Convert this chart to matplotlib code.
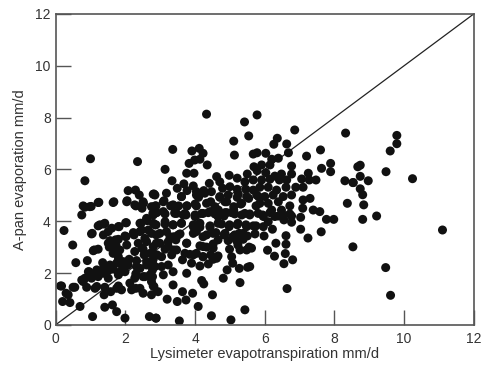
import matplotlib
matplotlib.use("Agg")
import matplotlib.pyplot as plt

# lysimeter ET (x) vs A-pan evaporation (y), mm/d
lys = [1.00, 2.35, 0.84, 2.08, 2.29, 2.40, 2.80, 1.24, 1.67, 2.05, 2.51, 0.84, 1.02, 0.75, 2.30, 2.48, 2.88, 2.88, 2.61,
       4.33, 5.78, 5.42, 5.54, 5.11, 3.36, 4.12, 3.91, 4.23, 5.13, 5.67, 5.78, 3.99, 3.83, 4.14, 4.35, 3.14, 5.69, 3.76,
       3.97, 5.78, 3.34, 4.62, 4.98, 3.68, 3.95, 4.41, 4.71, 5.21, 5.50, 5.43, 5.67, 2.82, 3.49, 3.77, 4.04, 4.25, 4.47,
       4.79, 5.00, 5.21, 5.46, 5.67, 3.61, 4.10, 4.71, 4.91, 5.21, 5.54, 5.82, 3.11, 2.86, 3.30, 3.53, 3.77, 4.04, 4.45,
       5.31, 5.75, 3.09, 3.47, 3.74, 4.00, 4.38, 4.67, 4.86, 5.11, 5.57, 5.81,
       6.86, 8.32, 6.36, 6.26, 6.63, 6.68, 7.20, 7.60, 6.03, 6.20, 6.39, 5.91, 6.15, 6.77, 7.89, 7.63, 7.89, 8.67, 6.03,
       6.29, 6.48, 6.77, 7.25, 5.91, 6.15, 6.42, 6.63, 7.06, 7.28, 7.47, 8.30, 8.54, 5.86, 6.10, 6.34, 6.61, 6.89, 7.10,
       5.77, 6.00, 6.24, 6.53, 6.77, 5.86, 6.10, 6.39, 7.10, 7.30, 8.37, 6.20, 6.48, 6.72, 7.09, 7.39, 7.58, 5.96, 6.29,
       6.53, 6.77, 7.77, 7.98,
       9.79, 9.79, 9.60, 8.74, 9.48, 10.24, 8.74, 8.53, 8.97, 8.74, 8.81, 8.84, 9.21, 8.81,
       11.10, 8.53, 9.47, 9.61,
       7.62, 7.24, 7.03, 7.03, 6.77, 6.55, 6.72, 6.39, 6.15, 5.94, 6.10, 5.67, 5.96, 6.22, 5.98, 6.61, 6.32, 6.61, 5.62,
       6.08, 6.28, 6.59, 6.80, 6.55, 5.57, 6.64,
       2.79, 3.42, 3.71, 4.00, 4.23, 4.57, 4.83, 5.05, 5.34, 5.57,
       2.85, 3.14, 3.37, 3.61, 3.95, 4.14, 4.43, 4.76, 4.98, 5.21, 5.46, 5.75,
       2.89, 3.18, 3.39, 3.57, 3.95, 4.33, 4.60, 4.83, 5.08, 5.27, 5.50, 5.72, 4.66, 4.95, 5.19, 5.38,
       2.80, 2.99, 3.23, 3.45, 3.76, 4.14, 4.33, 4.52, 5.29, 5.55, 3.39, 3.14,
       3.71, 3.85, 4.04, 4.23, 4.45, 4.66, 3.64, 3.90, 4.14, 4.38, 4.52, 4.92, 5.08, 5.27, 5.51, 2.80, 2.78, 3.04, 3.23,
       3.37,
       2.78, 2.82, 3.09, 3.37, 3.76, 3.64, 3.93, 4.19, 4.25, 4.50, 4.81, 5.29, 3.20,
       3.49, 3.74, 4.09, 4.47, 5.03, 5.43, 2.88, 3.55,
       0.24, 1.03, 1.27, 1.39, 1.61, 1.82, 2.03, 2.42, 2.63, 2.47, 2.66, 2.88, 0.49, 1.37, 1.56, 1.80, 2.02, 2.25, 1.73,
       1.54, 1.08, 1.22, 2.37, 2.61, 2.51, 2.80, 2.91, 0.58, 0.91, 1.35, 1.56, 1.80, 1.94, 2.11, 2.32, 2.42, 2.61, 2.80,
       0.96, 0.84, 0.79, 1.08, 1.37, 1.51, 1.65, 1.80, 1.92, 2.30, 2.51, 2.71, 0.14, 0.55, 0.30, 0.41, 0.20, 0.70, 0.89,
       1.18, 1.39, 1.58, 1.80, 1.89, 2.13, 2.30, 2.51, 2.80, 2.94, 1.41, 1.63, 1.75, 1.99, 1.06, 2.69, 2.88]

pan = [6.41, 6.30, 5.56, 5.18, 5.20, 5.01, 5.04, 4.73, 4.75, 4.79, 4.75, 4.54, 4.57, 4.24, 4.59, 4.50, 4.59, 4.33, 4.11,
       8.13, 8.10, 7.83, 7.29, 7.09, 6.77, 6.81, 6.71, 6.62, 6.55, 6.59, 6.64, 6.36, 6.23, 6.39, 6.17, 6.00, 6.10, 5.85,
       5.85, 5.95, 5.56, 5.72, 5.77, 5.44, 5.36, 5.46, 5.52, 5.66, 5.82, 5.52, 5.59, 5.05, 5.27, 5.18, 5.14, 5.18, 5.14,
       5.27, 5.33, 5.23, 5.23, 5.20, 4.95, 4.92, 4.92, 4.75, 4.92, 4.88, 4.95, 4.79, 4.59, 4.59, 4.59, 4.59, 4.59, 4.75,
       4.66, 4.59, 4.37, 4.30, 4.24, 4.24, 4.33, 4.43, 4.33, 4.43, 4.24, 4.30,
       7.52, 7.40, 7.20, 6.97, 6.98, 6.64, 6.51, 6.75, 6.62, 6.39, 6.43, 6.17, 6.17, 6.13, 6.23, 6.04, 5.91, 6.10, 5.87,
       5.74, 5.82, 5.82, 5.85, 5.59, 5.62, 5.59, 5.59, 5.63, 5.59, 5.59, 5.56, 5.49, 5.31, 5.31, 5.20, 5.31, 5.31, 5.31,
       5.01, 4.95, 5.01, 4.95, 5.01, 4.69, 4.69, 4.75, 4.82, 4.88, 4.69, 4.43, 4.43, 4.59, 4.50, 4.43, 4.37, 4.18, 4.18,
       4.24, 4.20, 4.07, 4.07,
       7.31, 6.99, 6.71, 6.16, 5.91, 5.64, 5.73, 5.49, 5.56, 5.25, 5.02, 4.63, 4.20, 4.07,
       3.66, 3.01, 2.21, 1.14,
       3.59, 3.35, 3.69, 4.15, 3.96, 4.05, 4.28, 4.20, 4.33, 4.24, 3.98, 3.82, 3.79, 3.69, 3.43, 3.44, 3.15, 3.11, 2.96,
       2.88, 2.65, 2.75, 2.51, 2.36, 2.25, 1.40,
       4.30, 4.30, 4.30, 4.18, 4.30, 4.28, 4.20, 4.33, 4.24, 4.28,
       3.86, 3.89, 3.86, 3.92, 3.86, 3.77, 3.82, 3.89, 3.79, 3.86, 3.86, 3.82,
       3.47, 3.60, 3.40, 3.51, 3.53, 3.47, 3.56, 3.47, 3.40, 3.53, 3.43, 3.51, 3.28, 3.25, 3.25, 3.30,
       2.76, 3.15, 3.21, 3.28, 3.15, 3.05, 3.00, 3.12, 2.89, 3.00, 2.89, 2.92,
       2.76, 2.72, 2.76, 2.63, 2.70, 2.66, 2.51, 2.38, 2.27, 2.35, 2.53, 2.12, 2.38, 2.18, 2.22, 2.53, 2.12, 2.25, 2.31,
       2.05,
       1.86, 1.48, 1.93, 1.54, 1.99, 1.28, 1.22, 1.71, 1.58, 1.16, 1.80, 1.63, 0.99,
       0.90, 0.96, 0.71, 0.35, 0.19, 0.58, 0.26, 0.15,
       3.64, 3.51, 3.86, 3.89, 3.73, 3.79, 3.94, 3.92, 4.02, 3.66, 3.66, 3.86, 3.08, 3.47, 3.25, 3.30, 3.40, 3.47, 3.08,
       3.00, 2.86, 2.92, 3.15, 3.21, 2.92, 3.02, 2.70, 2.40, 2.48, 2.40, 2.31, 2.51, 2.38, 2.53, 2.48, 2.18, 2.31, 2.31,
       2.05, 1.80, 1.67, 1.89, 1.99, 2.09, 2.15, 2.02, 2.22, 1.97, 1.86, 1.93, 1.50, 1.45, 1.22, 0.86, 0.90, 0.71, 1.45,
       1.48, 1.16, 1.28, 1.50, 1.35, 1.61, 1.41, 1.22, 1.50, 1.28, 0.68, 0.77, 0.51, 0.26, 0.32, 0.32, 0.26]

# second pass over the dense part of the cloud
lys2 = [0.79, 0.98, 1.22, 1.65, 2.04, 2.27, 2.52, 2.75, 1.22, 1.41, 1.80, 2.01, 1.05, 1.51, 1.72, 1.99, 2.23, 2.45,
        2.61, 2.80, 2.42, 2.56, 2.75, 1.51, 1.70, 1.84, 2.04, 1.11, 1.65, 1.80, 2.27, 2.48, 2.71, 2.54, 0.94, 1.18, 1.37,
        1.61, 1.75, 1.94, 2.08, 2.32, 2.61, 2.85, 0.17, 0.50, 0.75, 1.03, 1.22, 1.51, 1.80, 1.99, 2.27, 2.56, 2.75, 0.36,
        1.13, 1.41, 1.75, 2.18, 2.42, 2.75,
        2.85, 3.18, 3.61, 4.04, 4.28, 4.71, 4.95, 5.24, 5.48, 2.85, 3.09, 3.37, 3.76, 4.00, 4.33, 4.57, 4.86, 5.11, 5.34,
        2.90, 3.14, 3.42, 3.66, 4.19, 4.43, 4.66, 4.91, 5.14, 5.43, 2.80, 3.14, 3.37, 3.61, 3.95, 4.14, 4.43, 4.66, 4.99,
        5.23, 5.48, 2.99, 3.28, 3.52, 4.04, 4.23, 4.52, 4.86, 5.14, 5.38, 2.89, 3.23, 3.47, 3.76, 4.23, 4.52, 4.99, 5.23,
        5.48, 3.04, 3.33, 3.95, 4.23, 4.62, 5.05]

pan2 = [4.59, 4.56, 4.72, 4.72, 4.75, 4.63, 4.69, 4.56, 3.82, 3.92, 3.79, 3.94, 3.53, 3.60, 3.28, 3.43, 3.56, 3.92,
        4.05, 4.24, 3.60, 3.34, 3.53, 3.15, 3.02, 2.89, 3.08, 2.89, 2.76, 2.63, 2.83, 2.96, 2.76, 2.70, 2.05, 2.12, 2.18,
        2.25, 2.38, 2.44, 2.31, 2.25, 2.44, 2.25, 1.50, 1.45, 1.73, 1.80, 1.86, 1.80, 1.93, 2.05, 1.80, 1.86, 1.67, 1.16,
        1.41, 1.45, 1.41, 1.35, 1.41, 1.16,
        5.01, 5.08, 4.95, 5.01, 5.08, 4.95, 5.01, 5.05, 4.95, 4.56, 4.75, 4.63, 4.59, 4.66, 4.69, 4.56, 4.75, 4.56, 4.69,
        4.33, 4.28, 4.33, 4.24, 4.30, 4.37, 4.18, 4.33, 4.28, 4.30, 3.92, 3.98, 3.86, 3.92, 3.79, 3.92, 3.77, 3.92, 3.86,
        3.92, 3.79, 3.53, 3.40, 3.47, 3.60, 3.40, 3.53, 3.53, 3.47, 3.53, 3.15, 3.02, 2.89, 3.15, 3.02, 2.96, 2.92, 3.08,
        2.89, 2.63, 2.70, 2.70, 2.63, 2.57, 2.63]

ticks = [0, 2, 4, 6, 8, 10, 12]

plt.rcParams['font.family'] = ['Liberation Sans', 'DejaVu Sans']

fig = plt.figure(figsize=(4.88, 3.65), dpi=100)
ax = fig.add_axes([0.114, 0.110, 0.857, 0.852])

ax.plot([0, 12], [0, 12], color='#222222', lw=0.9, zorder=1)
ax.scatter(lys + lys2, pan + pan2, s=42, color='#111111', edgecolors='none', zorder=2)

ax.set_xlim(0, 12)
ax.set_ylim(0, 12)
ax.set_xticks(ticks)
ax.set_yticks(ticks)
ax.tick_params(direction='in', length=11, width=1, colors='#555555', labelcolor='#333333',
               labelsize=10, top=False, right=False)
ax.tick_params(axis='x', pad=5)
for sp in ax.spines.values():
    sp.set_color('#555555')
    sp.set_linewidth(1.2)

ax.set_xlabel("Lysimeter evapotranspiration mm/d", fontsize=10.5, color='#333333', labelpad=1)
ax.set_ylabel("A-pan evaporation mm/d", fontsize=10.5, color='#333333', labelpad=6)

fig.savefig("out.png", dpi=100)
